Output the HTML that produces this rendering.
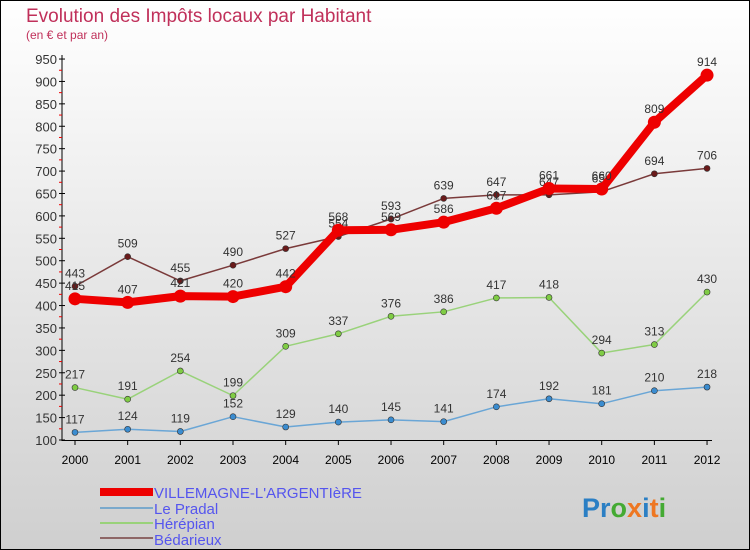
<!DOCTYPE html>
<html><head><meta charset="utf-8"><style>
body{margin:0}
#c{width:750px;height:550px;position:relative;overflow:hidden;font-family:"Liberation Sans",sans-serif;}
</style></head><body>
<div id="c">
<svg id="s" width="750" height="550" xmlns="http://www.w3.org/2000/svg">
<defs><linearGradient id="bg" x1="0" y1="0" x2="0" y2="1"><stop offset="0" stop-color="#ffffff"/><stop offset="1" stop-color="#cfcfcf"/></linearGradient></defs>
<rect x="0.5" y="0.5" width="749" height="549" fill="url(#bg)" stroke="#000"/>
<text x="26" y="22" font-size="19" fill="#c0305a">Evolution des Impôts locaux par Habitant</text>
<text x="26" y="39" font-size="12" fill="#c0305a">(en € et par an)</text>
<g id="axes"></g><g id="series"></g>
<g>
<rect x="100" y="488" width="53" height="8" fill="#e00"/>
<text x="154" y="498" font-size="15" fill="#5555ee">VILLEMAGNE-L'ARGENTIèRE</text>
<line x1="100" y1="508" x2="153" y2="508" stroke="#7aa9cc" stroke-width="2"/>
<text x="154" y="514" font-size="15" fill="#5555ee">Le Pradal</text>
<line x1="100" y1="523" x2="153" y2="523" stroke="#99d27a" stroke-width="2"/>
<text x="154" y="529" font-size="15" fill="#5555ee">Hérépian</text>
<line x1="100" y1="538" x2="153" y2="538" stroke="#8d6666" stroke-width="2"/>
<text x="154" y="545" font-size="15" fill="#5555ee">Bédarieux</text>
</g>
<text x="582" y="517" font-size="27" font-weight="bold"><tspan fill="#2b7fc4">Pr</tspan><tspan fill="#44aa33">o</tspan><tspan fill="#ee7722">x</tspan><tspan fill="#2b7fc4">i</tspan><tspan fill="#ee7722">t</tspan><tspan fill="#44aa33">i</tspan></text>
</svg></div>
<script>
const years=[2000,2001,2002,2003,2004,2005,2006,2007,2008,2009,2010,2011,2012];
const villemagne=[415,407,421,420,442,568,569,586,617,661,660,809,914];
const pradal=[117,124,119,152,129,140,145,141,174,192,181,210,218];
const herepian=[217,191,254,199,309,337,376,386,417,418,294,313,430];
const bedarieux=[443,509,455,490,527,554,593,639,647,647,654,694,706];
const yTicks=[100,150,200,250,300,350,400,450,500,550,600,650,700,750,800,850,900,950];
const NS="http://www.w3.org/2000/svg";
const X=i=>75+i*52.67, Y=v=>440-(v-100)*0.4482;
function mk(t,a,p){const e=document.createElementNS(NS,t);for(const k in a)e.setAttribute(k,a[k]);p.appendChild(e);return e;}
const ax=document.getElementById('axes'), sg=document.getElementById('series');
let l=mk('line',{x1:62,y1:55,x2:62,y2:441,stroke:'#000'},ax);


l=mk('line',{x1:62,y1:440.5,x2:712,y2:440.5,stroke:'#000'},ax);


yTicks.forEach(v=>{const y=Y(v);
 mk('line',{x1:59,y1:y,x2:65,y2:y,stroke:'#000'},ax);
 if(v<950) mk('line',{x1:59,y1:Y(v+25),x2:62,y2:Y(v+25),stroke:'#e00'},ax);
 const t=mk('text',{x:57,y:y+5,'text-anchor':'end','font-size':13,fill:'#333'},ax);t.textContent=v;
 
 });
years.forEach((yr,i)=>{const x=X(i);
 mk('line',{x1:x,y1:440,x2:x,y2:445,stroke:'#000'},ax);
 const t=mk('text',{x:x,y:464,'text-anchor':'middle','font-size':12,fill:'#000'},ax);t.textContent=yr;
 
 });
function series(name,vals,color,w,r,dot,lblOff){
 const g=mk('g',{},sg);
 
 
 mk('polyline',{points:vals.map((v,i)=>X(i)+','+Y(v)).join(' '),fill:'none',stroke:color,'stroke-width':w,'stroke-linejoin':'round'},g);
 vals.forEach((v,i)=>{const c=mk('circle',{cx:X(i),cy:Y(v),r:r,fill:dot,stroke:'#333','stroke-width':r>5?0:0.6},g);
  
  
  const t=mk('text',{x:X(i),y:Y(v)+lblOff,'text-anchor':'middle','font-size':12,fill:'#333'},g);t.textContent=v;
  
  });
}
series('pradal',pradal,'#6aa6d6',1.5,3,'#3a8cd0',-9);
series('herepian',herepian,'#99d27a',1.5,3,'#7fcc44',-9);
series('bedarieux',bedarieux,'#7a3a3a',1.5,3,'#6a1a1a',-9);
series('villemagne',villemagne,'#ee0000',8,6.5,'#ee0000',-9);
</script>
</body></html>
